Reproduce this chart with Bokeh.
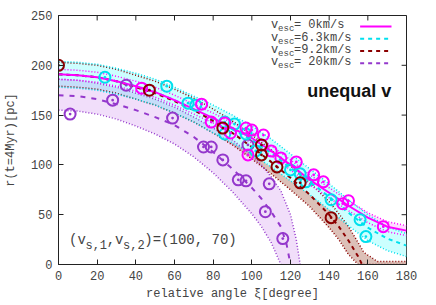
from bokeh.plotting import figure
from bokeh.models import Range1d, FixedTicker, Label
from bokeh.embed import file_html
from bokeh.resources import INLINE

# ---------------- data ----------------
# v_esc = 0 km/s (magenta)
m_x = [0, 10, 20, 30, 40, 50, 60, 70, 80, 90, 100, 110, 120, 130, 140, 150, 160, 170, 180]
m_mean = [191, 190, 188, 184, 179, 173, 165, 156, 147, 137, 127, 114, 100, 85, 72, 59, 47, 38, 34]
m_up = [196, 195, 193, 189, 184, 178, 170, 161, 152, 142, 132, 119, 105, 90, 77, 64, 52, 43, 39]
m_lo = [186, 185, 183, 179, 174, 168, 160, 151, 142, 132, 122, 109, 95, 80, 67, 54, 42, 33, 29]
m_px = [43, 74, 79, 86, 89, 97, 100, 106, 98, 110, 115, 123, 132, 137, 147, 150, 168]
m_py = [177, 161, 143, 142, 132, 137, 135, 130, 110, 114, 107, 103, 90, 83, 61, 64, 38]

# v_esc = 6.3 km/s (cyan)
c_x = [0, 10, 20, 30, 40, 50, 60, 70, 80, 90, 100, 110, 120, 130, 140, 150, 160, 170, 180]
c_mean = [191, 190, 188, 184, 179, 173, 165, 156, 146, 136, 125, 112, 97, 83, 68, 52, 37, 26, 19]
c_up = [204, 203, 201, 197, 192, 186, 178, 169, 160, 150, 139, 126, 111, 96, 81, 65, 50, 38, 31]
c_lo = [178, 177, 175, 171, 166, 160, 152, 143, 132, 122, 111, 98, 84, 70, 55, 39, 24, 14, 8]
c_px = [24, 56, 67, 71, 86, 91, 86, 97, 102, 120, 125, 128, 141, 156, 159]
c_py = [188, 179, 162, 160, 143, 141, 131, 131, 114, 95, 91, 83, 65, 45, 28]

# v_esc = 9.2 km/s (dark red)
b_x = [0, 10, 20, 30, 40, 50, 60, 70, 80, 90, 100, 110, 120, 130, 140, 145, 150, 155, 158, 165, 180]
b_up = [203, 202, 200, 196, 190, 184, 176, 167, 156, 144, 130, 115, 99, 82, 63, 51, 38, 22, 12, 3, 3]
b_lo = [179, 178, 176, 172, 166, 160, 152, 143, 132, 120, 106, 91, 75, 58, 37, 25, 10, 0, 0, 0, 0]
b_mx = [0, 10, 20, 30, 40, 50, 60, 70, 80, 90, 100, 110, 120, 130, 140, 145, 150, 155, 157]
b_mean = [191, 190, 188, 184, 178, 172, 164, 155, 144, 132, 118, 103, 87, 70, 50, 38, 24, 8, 0]
b_px = [0, 47, 85, 105, 105, 113, 125, 141]
b_py = [200, 175, 137, 120, 110, 98, 82, 47]

# v_esc = 20 km/s (purple)
p_mx = [0, 10, 20, 30, 40, 50, 60, 70, 80, 90, 100, 105, 110, 115, 118, 120]
p_mean = [170, 169, 166, 161, 155, 148, 140, 128, 113, 96, 77, 66, 53, 38, 20, 0]
p_ux = [0, 10, 20, 30, 40, 50, 60, 70, 80, 90, 100, 105, 110, 115, 120, 123, 125]
p_up = [186, 185, 182, 178, 172, 166, 158, 148, 137, 125, 110, 100, 88, 74, 50, 25, 0]
p_lx = [0, 10, 20, 30, 40, 50, 60, 70, 80, 90, 100, 105, 110, 115]
p_lo = [155, 154, 151, 146, 139, 131, 121, 108, 92, 73, 51, 38, 22, 0]
p_px = [6, 28, 35, 59, 75, 79, 85, 93, 97, 98, 107, 109, 116]
p_py = [151, 165, 180, 147, 118, 118, 105, 85, 84, 120, 53, 81, 26]

x_ticks = [0, 20, 40, 60, 80, 100, 120, 140, 160, 180]
y_ticks = [0, 50, 100, 150, 200, 250]

MAG, CYA, BRN, PUR = "#ff00ff", "#00e0ee", "#8b0000", "#9438cc"
TXT = "#444444"
MONO = "Liberation Mono"

# reference-image pixel helpers -> data coords (text/legend placement only)
def X(px):
    return (px - 59.3) / 355.0 * 180.0

def Y(py):
    return 265.0 - py

p = figure(width=420, height=303, output_backend="svg", toolbar_location=None,
           x_range=Range1d(0, 180), y_range=Range1d(0, 250),
           min_border_left=51, min_border_right=14, min_border_top=15, min_border_bottom=38)
p.xgrid.visible = False
p.ygrid.visible = False
p.outline_line_color = "#222222"
p.outline_line_width = 1
p.background_fill_color = "white"
p.border_fill_color = "white"

def band(xu, yu, xl, yl, color, alpha):
    xs = list(xu) + list(reversed(xl))
    ys = list(yu) + list(reversed(yl))
    p.patch(xs, ys, fill_color=color, fill_alpha=alpha, line_color=None)

band(m_x, m_up, m_x, m_lo, MAG, 0.15)
band(b_x, b_up, b_x, b_lo, "#dcc0b8", 1.0)
band(c_x, c_up, c_x, c_lo, "#ccffff", 1.0)
band(p_ux, p_up, p_lx, p_lo, "#a020e0", 0.15)

for xx, yy, col in [(b_x, b_up, BRN), (b_x, b_lo, BRN),
                    (c_x, c_up, CYA), (c_x, c_lo, CYA),
                    (p_ux, p_up, PUR), (p_lx, p_lo, PUR),
                    (m_x, m_up, MAG), (m_x, m_lo, MAG)]:
    p.line(xx, yy, line_color=col, line_width=1.5, line_dash="1 2")

p.line(c_x, c_mean, line_color=CYA, line_width=2, line_dash="4 4")
p.line(b_mx, b_mean, line_color=BRN, line_width=2, line_dash="4 4")
p.line(p_mx, p_mean, line_color=PUR, line_width=2, line_dash="5 6")
p.line(m_x, m_mean, line_color=MAG, line_width=2)

for xx, yy, col in [(p_px, p_py, PUR), (c_px, c_py, CYA), (m_px, m_py, MAG), (b_px, b_py, BRN)]:
    p.scatter(xx, yy, marker="circle_dot", size=11, line_color=col, line_width=2, fill_color=None)

# axes
p.xaxis.ticker = FixedTicker(ticks=x_ticks)
p.yaxis.ticker = FixedTicker(ticks=y_ticks)
for ax in (p.xaxis[0], p.yaxis[0]):
    ax.axis_line_color = "#222222"
    ax.major_tick_in = 5
    ax.major_tick_out = 0
    ax.major_tick_line_color = "#222222"
    ax.minor_tick_line_color = None
    ax.major_label_text_font = MONO
    ax.major_label_text_font_size = "12px"
    ax.major_label_text_color = TXT
    ax.axis_label_text_font = MONO
    ax.axis_label_text_font_size = "12px"
    ax.axis_label_text_font_style = "normal"
    ax.axis_label_text_color = TXT
p.xaxis.major_label_standoff = 6
p.yaxis.major_label_standoff = 6
p.xaxis.axis_label = "relative angle ξ[degree]"
p.yaxis.axis_label = "r(t=4Myr)[pc]"
p.xaxis.axis_label_standoff = 4
p.yaxis.axis_label_standoff = 10

# mirrored ticks on top and right (5 px inward)
dx = 5 * 180.0 / 355.0
p.segment(x0=x_ticks, y0=[250] * len(x_ticks), x1=x_ticks, y1=[245] * len(x_ticks),
          line_color="#222222", line_width=1)
p.segment(x0=[180] * len(y_ticks), y0=y_ticks, x1=[180 - dx] * len(y_ticks), y1=y_ticks,
          line_color="#222222", line_width=1)

def lab(x, y, t, size, style="normal", font=MONO, color=TXT):
    p.add_layout(Label(x=x, y=y, text=t, text_font=font, text_font_size=size,
                       text_font_style=style, text_color=color,
                       text_align="left", text_baseline="middle"))

leg_labels = ["=  0km/s", "=6.3km/s", "=9.2km/s", "= 20km/s"]
leg_cols = [MAG, CYA, BRN, PUR]
leg_dash = ["solid", "4 4", "4 4", "4 4"]
for i, (t, col, d) in enumerate(zip(leg_labels, leg_cols, leg_dash)):
    py = 25 + i * 12.3
    lab(X(276), Y(py), "v", "12px")
    lab(X(283.3), Y(py + 4), "esc", "9px")
    lab(X(299.5), Y(py), t, "12px")
    p.line([X(367), X(399)], [Y(py + 1), Y(py + 1)], line_color=col, line_width=2, line_dash=d)

lab(X(313), Y(91), "unequal v", "18px", style="bold", font="Liberation Sans", color="#111111")
ty = 240.5
lab(X(70), Y(ty), "(v", "14px")
lab(X(86.8), Y(ty + 6), "s,1", "12px")
lab(X(108.4), Y(ty), ",v", "14px")
lab(X(125.2), Y(ty + 6), "s,2", "12px")
lab(X(146.8), Y(ty), ")=(100, 70)", "14px")

open("out.html", "w").write(file_html(p, INLINE))
